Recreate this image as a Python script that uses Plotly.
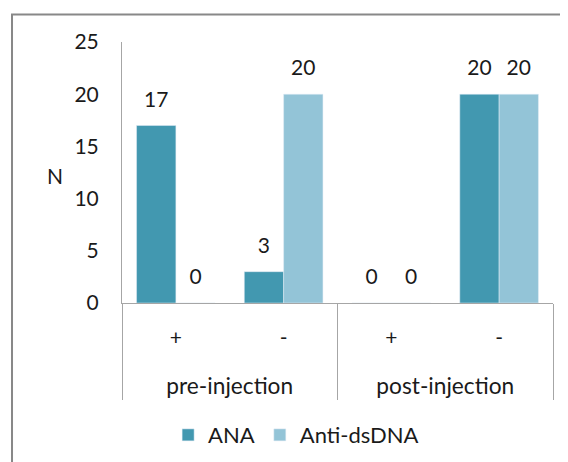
import plotly.graph_objects as go

groups = ["pre-injection", "pre-injection", "post-injection", "post-injection"]
signs = ["+", "-", "+", "-"]
ana = [17, 3, 0, 20]
anti_dsdna = [0, 20, 0, 20]
y_ticks = [0, 5, 10, 15, 20, 25]

FONT = "Lato"
TXT = "#1a1a1a"
AX = "#a6a6a6"
cats = [f"{g} {s}" for g, s in zip(groups, signs)]
group_names = list(dict.fromkeys(groups))
group_pos = [sum(i for i, g in enumerate(groups) if g == n) / groups.count(n) for n in group_names]
bounds = [-0.5] + [i + 0.5 for i in range(len(groups) - 1) if groups[i] != groups[i + 1]] + [len(groups) - 0.5]

fig = go.Figure()
for name, vals, col in [("ANA", ana, "#4298B0"), ("Anti-dsDNA", anti_dsdna, "#93C4D7")]:
    fig.add_trace(go.Bar(x=cats, y=vals, name=name, marker_color=col))
for name, vals in [("ANA", ana), ("Anti-dsDNA", anti_dsdna)]:
    fig.add_trace(go.Scatter(x=cats, y=vals, mode="markers+text", text=vals,
                             textposition="top center", showlegend=False, hoverinfo="skip",
                             offsetgroup="s" + name, alignmentgroup="s", orientation="v",
                             marker=dict(size=20, opacity=0), cliponaxis=False,
                             textfont=dict(size=21, color=TXT, family=FONT)))
# invisible helper so the group-label axis is drawn
fig.add_trace(go.Scatter(x=group_pos, y=[0] * len(group_pos), xaxis="x2", mode="none",
                         showlegend=False, hoverinfo="skip"))

fig.update_layout(
    width=568, height=462,
    margin=dict(l=114, r=23, t=34, b=167, autoexpand=False),
    paper_bgcolor="white", plot_bgcolor="white",
    barmode="group", bargap=0.27, bargroupgap=0,
    scattermode="group", scattergap=0.27,
    font=dict(family=FONT, size=21, color=TXT),
    showlegend=True,
    legend=dict(orientation="h", x=0.404, xanchor="center", y=-0.506, yanchor="middle",
                font=dict(size=22, family=FONT), itemwidth=30),
    yaxis=dict(range=[0, 25], tickvals=y_ticks, showgrid=False, showline=True,
               linecolor=AX, linewidth=1, ticks="", zeroline=False,
               automargin=False, ticklabelstandoff=18,
               tickfont=dict(size=21, family=FONT)),
    xaxis=dict(type="category", range=[-0.5, len(cats) - 0.5], tickvals=cats, ticktext=signs,
               showline=True, linecolor=AX, linewidth=1, ticks="", showgrid=False,
               automargin=False, ticklabelstandoff=16, tickfont=dict(size=21, family=FONT)),
    xaxis2=dict(overlaying="x", anchor="y", side="bottom", range=[-0.5, len(cats) - 0.5],
                tickvals=group_pos, ticktext=group_names, showgrid=False, zeroline=False,
                showline=True, linecolor=AX, linewidth=1,
                ticks="", automargin=False, ticklabelstandoff=63,
                tickfont=dict(size=22.7, family=FONT),
                minor=dict(tickvals=bounds, ticks="outside", ticklen=96, tickcolor=AX,
                           tickwidth=1, showgrid=False)),
    shapes=[dict(type="rect", xref="paper", yref="paper",
                 x0=-0.2552, x1=1.2, y0=-1.0, y1=1.105,
                 line=dict(color="#888888", width=2), fillcolor="rgba(0,0,0,0)", layer="below")],
    annotations=[dict(text="N", xref="paper", yref="paper", x=-0.178, y=0.49,
                      showarrow=False, font=dict(size=21, family=FONT))],
)
fig.write_html("out.html")
